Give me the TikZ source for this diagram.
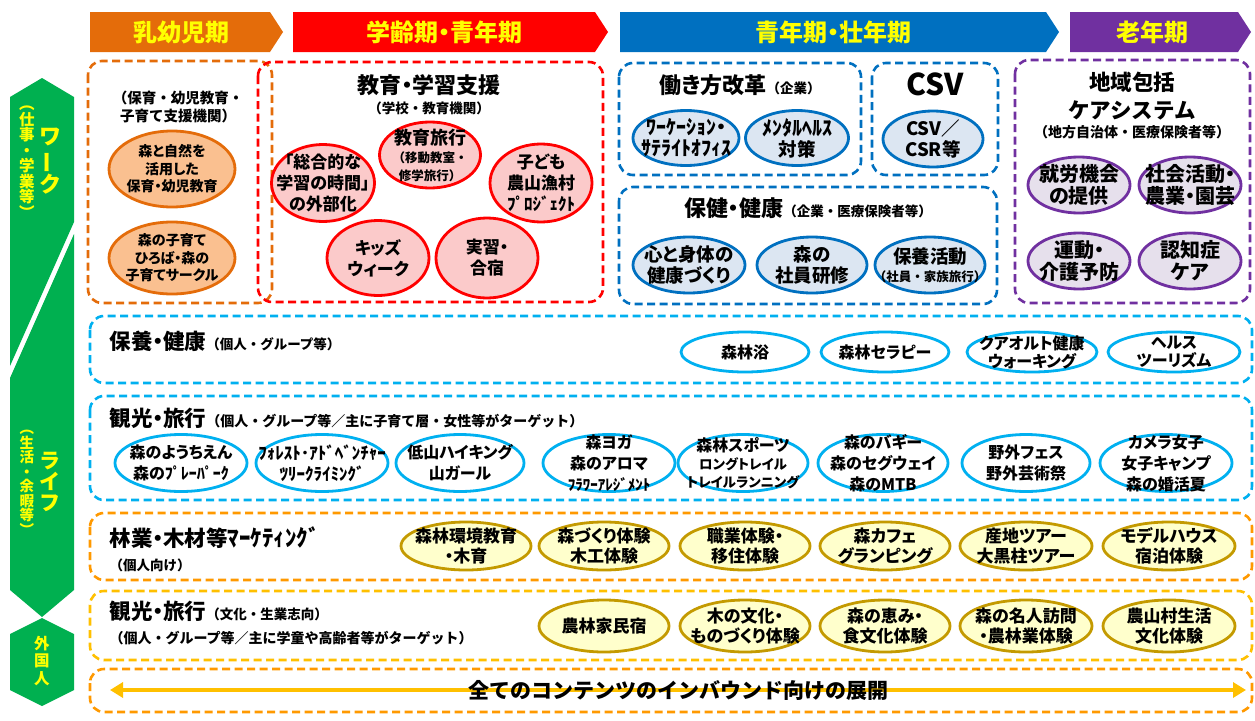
\documentclass[tikz,border=0pt]{standalone}
\usepackage{fontspec}
\setmainfont{Noto Sans CJK JP}[RawFeature=+palt]
\newfontfamily\fw{Noto Sans CJK JP}
\usetikzlibrary{shapes.geometric,arrows.meta}

\definecolor{grn}{HTML}{00B050}
\definecolor{ylw}{HTML}{FFFF00}
\definecolor{orgln}{HTML}{E46C0A}
\definecolor{orgfl}{HTML}{FAC090}
\definecolor{redln}{HTML}{FF0000}
\definecolor{redfl}{HTML}{FBCACA}
\definecolor{bluln}{HTML}{0070C0}
\definecolor{blufl}{HTML}{DCE6F2}
\definecolor{purln}{HTML}{7030A0}
\definecolor{purfl}{HTML}{E6E0EC}
\definecolor{skyln}{HTML}{00B0F0}
\definecolor{amber}{HTML}{FF9900}
\definecolor{gold}{HTML}{FFC000}
\definecolor{goldln}{HTML}{C49A00}
\definecolor{goldfl}{HTML}{FFFFCC}

\newcommand{\smtxt}{\fw\fontsize{13.5}{16}\selectfont}
\newcommand{\tntxt}{\fw\fontsize{12.5}{14}\selectfont}

\tikzset{
  bantext/.style={text=ylw,font=\fontsize{24}{24}\selectfont\bfseries},
  vtext/.style={text=ylw,align=center,inner sep=0pt},
  dbox/.style={draw=#1,line width=2.6pt,dash pattern=on 8pt off 4.5pt,rounded corners=14pt},
  oval/.style 2 args={ellipse,draw=#1,fill=#2,line width=2.8pt,inner sep=-90pt,align=center},
  ovorg/.style={oval={orgln}{orgfl},minimum width=126,minimum height=76,font=\fontsize{14}{17.5}\selectfont\bfseries},
  ovred/.style={oval={redln}{redfl},minimum width=102,minimum height=77,font=\fontsize{17}{21}\selectfont\bfseries},
  ovblu/.style={oval={bluln}{blufl},minimum width=106,minimum height=55,font=\fontsize{18.5}{21}\selectfont\bfseries},
  ovpur/.style={oval={purln}{purfl},minimum width=102,minimum height=56,font=\fontsize{20}{22}\selectfont\bfseries},
  ovsky/.style={oval={skyln}{white},minimum width=128,font=\fontsize{16}{21}\selectfont\bfseries},
  ovgld/.style={oval={goldln}{goldfl},minimum width=130,font=\fontsize{17}{20.5}\selectfont\bfseries},
  ttl/.style={font=\fontsize{22}{28}\selectfont\bfseries,align=center},
  sub/.style={font=\fw\fontsize{13.5}{18}\selectfont\bfseries,align=center},
  hd/.style={anchor=west,align=left,font=\fontsize{21.5}{24}\selectfont\bfseries},
}

\begin{document}
\begin{tikzpicture}[x=1pt,y=-1pt]
  \fill[white] (0,0) rectangle (1255,720);
  \useasboundingbox (0,0) rectangle (1255,720);

  % life stages
  \fill[orgln] (90,12) -- (270,12) -- (283,32) -- (270,52) -- (90,52) -- cycle;
  \fill[redln] (293,12) -- (595,12) -- (608,32) -- (595,52) -- (293,52) -- cycle;
  \fill[bluln] (620,12) -- (1046,12) -- (1059,32) -- (1046,52) -- (620,52) -- cycle;
  \fill[purln] (1070,12) -- (1238,12) -- (1251,32) -- (1238,52) -- (1070,52) -- cycle;
  \node[bantext] (st1) at (181,32) {乳幼児期};
  \node[bantext] (st2) at (444,32) {学齢期・青年期};
  \node[bantext] (st3) at (833,32) {青年期・壮年期};
  \node[bantext] (st4) at (1152,32) {老年期};

  % green side bar
  \fill[grn] (42,78) -- (74,97) -- (74,222) -- (10,366) -- (10,97) -- cycle;
  \fill[grn] (74,234) -- (74,590) -- (42,617) -- (10,590) -- (10,378) -- cycle;
  \fill[grn] (42,618) -- (74,634) -- (74,690) -- (42,706) -- (10,690) -- (10,634) -- cycle;
  \node[vtext,font=\fontsize{22}{23}\selectfont\bfseries] (work) at (50,161) {ワ\\\rotatebox[origin=c]{90}{ー}\\ク};
  \node[vtext,font=\fontsize{15.5}{15.5}\selectfont\bfseries] (works) at (27,162) {︵\\仕\\事\\・\\学\\業\\等\\︶};
  \node[vtext,font=\fontsize{21}{21}\selectfont\bfseries] (life) at (50,482) {ラ\\イ\\フ};
  \node[vtext,font=\fontsize{14.5}{14.5}\selectfont\bfseries] (lifes) at (27,483) {︵\\生\\活\\・\\余\\暇\\等\\︶};
  \node[vtext,font=\fontsize{15.5}{17.5}\selectfont\bfseries] (frgn) at (42,661) {外\\国\\人};

  % upper blocks
  \draw[dbox=orgln] (88,61) rectangle (272,303);
  \draw[dbox=redln] (258,62) rectangle (603,302);
  \draw[dbox=bluln] (619,63) rectangle (861,175);
  \draw[dbox=bluln] (872,63) rectangle (998,175);
  \draw[dbox=bluln] (619,187) rectangle (997,304);
  \draw[dbox=purln] (1015,60) rectangle (1250,303);

  \node[sub,font=\fw\fontsize{14.5}{18.5}\selectfont\bfseries] (nurs) at (178,107) {（保育・幼児教育・\\ 子育て支援機関）};
  \node[ovorg] (n1) at (172,169) {森と自然を\\活用した\\保育・幼児教育};
  \node[ovorg,minimum height=72] (n2) at (172,258) {森の子育て\\ひろば・森の\\子育てサークル};

  \node[ttl] (edu) at (429,85) {教育・学習支援};
  \node[sub] (edus) at (429,108) {（学校・教育機関）};
  \node[ovred,minimum width=103] (e1) at (323,183) {「総合的な\\学習の時間」\\の外部化};
  \node[ovred,minimum width=101,minimum height=66] (e2) at (430,155) {{\fontsize{18}{20}\selectfont 教育旅行}\\[-3pt]{\tntxt （移動教室・}\\[-3pt]{\tntxt 修学旅行）}};
  \node[ovred,minimum height=78] (e3) at (541,183) {子ども\\農山漁村\\ﾌﾟﾛｼﾞｪｸﾄ};
  \node[ovred,minimum height=75] (e4) at (378,258) {キッズ\\ウィーク};
  \node[ovred,minimum height=80] (e5) at (487,258) {実習・\\合宿};

  \node[ttl] (wrk) at (740,85) {働き方改革{\smtxt （企業）}};
  \node[ovblu] (w1) at (686,138) {{\fontsize{20}{21}\selectfont ﾜｰｹｰｼｮﾝ・}\\{\fontsize{20}{21}\selectfont ｻﾃﾗｲﾄｵﾌｨｽ}};
  \node[ovblu,minimum width=103] (w2) at (797,138) {{\fontsize{20}{21}\selectfont ﾒﾝﾀﾙﾍﾙｽ}\\対策};
  \node[ttl,font=\fontsize{30}{30}\selectfont\bfseries] (csv) at (935,84) {CSV};
  \node[ovblu,minimum width=100,minimum height=56] (c1) at (933,139) {CSV／\\CSR等};
  \node[ttl] (hlth) at (808,208) {保健・健康{\smtxt （企業・医療保険者等）}};
  \node[ovblu,minimum width=112,minimum height=56] (k1) at (689,265) {心と身体の\\健康づくり};
  \node[ovblu,minimum width=110,minimum height=56] (k2) at (812,265) {森の\\社員研修};
  \node[ovblu,minimum width=110,minimum height=56] (k3) at (930,265) {保養活動\\[-3pt]{\tntxt （社員・家族旅行）}};

  \node[ttl,font=\fw\fontsize{21.5}{28}\selectfont\bfseries] (care) at (1132,96) {地域包括\\ケアシステム};
  \node[sub,font=\fw\fontsize{14}{16}\selectfont\bfseries] (cares) at (1132,132) {（地方自治体・医療保険者等）};
  \node[ovpur] (p1) at (1079,185) {就労機会\\の提供};
  \node[ovpur] (p2) at (1190,185) {社会活動・\\農業・園芸};
  \node[ovpur] (p3) at (1079,261) {運動・\\介護予防};
  \node[ovpur] (p4) at (1190,261) {認知症\\ケア};

  % lower rows
  \draw[dbox=skyln] (90,316) rectangle (1252,383);
  \draw[dbox=skyln] (90,396) rectangle (1252,500);
  \draw[dbox=amber] (90,513) rectangle (1252,580);
  \draw[dbox=gold] (90,591) rectangle (1252,660);
  \draw[dbox=amber] (90,669) rectangle (1252,712);

  \node[hd] (row1) at (106,341) {保養・健康{\smtxt （個人・グループ等）}};
  \node[ovsky,minimum height=40] (a1) at (745,352) {森林浴};
  \node[ovsky,minimum height=40] (a2) at (885,352) {森林セラピー};
  \node[ovsky,minimum height=40,minimum width=130] (a3) at (1032,352) {クアオルト健康\\[-3pt]ウォーキング};
  \node[ovsky,minimum height=40,minimum width=132] (a4) at (1174,352) {ヘルス\\[-3pt]ツーリズム};

  \node[hd] (row2) at (106,418) {観光・旅行{\fw\fontsize{14}{16}\selectfont （個人・グループ等／主に子育て層・女性等がターゲット）}};
  \node[ovsky,minimum height=57,minimum width=132] (b1) at (181,463) {森のようちえん\\森のﾌﾟﾚｰﾊﾟｰｸ};
  \node[ovsky,minimum height=57,minimum width=132] (b2) at (322,463) {{\fontsize{17}{19}\selectfont ﾌｫﾚｽﾄ･ｱﾄﾞﾍﾞﾝﾁｬｰ}\\{\fontsize{17}{19}\selectfont ﾂﾘｰｸﾗｲﾐﾝｸﾞ}};
  \node[ovsky,minimum height=57] (b3) at (460,463) {低山ハイキング\\山ガール};
  \node[ovsky,minimum height=57,minimum width=132] (b4) at (609,463) {森ヨガ\\森のアロマ\\{\fontsize{15}{17}\selectfont ﾌﾗﾜｰｱﾚｼﾞﾒﾝﾄ}};
  \node[ovsky,minimum height=57,minimum width=130] (b5) at (743,463) {森林スポーツ\\[-3pt]{\fontsize{13.5}{15}\selectfont ロングトレイル}\\[-3pt]{\fontsize{13.5}{15}\selectfont トレイルランニング}};
  \node[ovsky,minimum height=57,minimum width=130] (b6) at (883,463) {森のバギー\\森のセグウェイ\\森のMTB};
  \node[ovsky,minimum height=57] (b7) at (1026,463) {野外フェス\\野外芸術祭};
  \node[ovsky,minimum height=57,minimum width=132] (b8) at (1166,463) {カメラ女子\\女子キャンプ\\森の婚活夏};

  \node[hd] (row3) at (106,549) {林業・木材等{\fontsize{23}{23}\selectfont ﾏｰｹﾃｨﾝｸﾞ}\\{\smtxt （個人向け）}};
  \node[ovgld,minimum height=48] (g1) at (466,546) {森林環境教育\\・木育};
  \node[ovgld,minimum height=48] (g2) at (604,546) {森づくり体験\\木工体験};
  \node[ovgld,minimum height=48] (g3) at (745,546) {職業体験・\\移住体験};
  \node[ovgld,minimum height=48] (g4) at (885,546) {森カフェ\\グランピング};
  \node[ovgld,minimum height=48,minimum width=132] (g5) at (1026,546) {産地ツアー\\大黒柱ツアー};
  \node[ovgld,minimum height=48,minimum width=132] (g6) at (1169,546) {モデルハウス\\宿泊体験};

  \node[hd] (row4) at (106,623) {観光・旅行{\smtxt （文化・生業志向）}\\{\fw\fontsize{14}{16}\selectfont （個人・グループ等／主に学童や高齢者等がターゲット）}};
  \node[ovgld,minimum height=52] (h1) at (604,626) {農林家民宿};
  \node[ovgld,minimum height=52] (h2) at (745,626) {木の文化・\\ものづくり体験};
  \node[ovgld,minimum height=52] (h3) at (885,626) {森の恵み・\\食文化体験};
  \node[ovgld,minimum height=52,minimum width=132] (h4) at (1026,626) {森の名人訪問\\・農林業体験};
  \node[ovgld,minimum height=52,minimum width=132] (h5) at (1169,626) {農山村生活\\文化体験};

  % inbound arrow
  \coordinate (inl) at (110,690);
  \coordinate (inr) at (1246,690);
  \draw[gold,line width=4pt,{Triangle[length=13pt,width=15pt]}-{Triangle[length=13pt,width=15pt]}] (inl) -- (inr);
  \node[font=\fw\fontsize{21}{22}\selectfont\bfseries] (inb) at (678,690) {全てのコンテンツのインバウンド向けの展開};
\end{tikzpicture}
\end{document}
